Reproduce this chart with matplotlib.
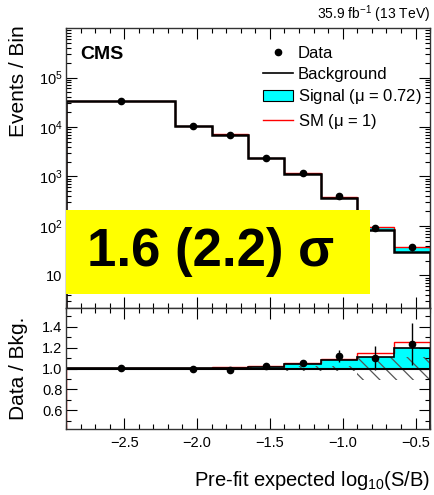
import numpy as np
import matplotlib
matplotlib.use("Agg")
import matplotlib.pyplot as plt
from matplotlib.lines import Line2D
from matplotlib.patches import Patch, Rectangle
from matplotlib.ticker import MultipleLocator, LogLocator, NullFormatter

plt.rcParams['font.family'] = ['Liberation Sans', 'DejaVu Sans']
plt.rcParams['mathtext.default'] = 'regular'
plt.rcParams['hatch.color'] = '#555555'
plt.rcParams['hatch.linewidth'] = 0.9

# bin edges in log10(S/B)
edges = [-2.9, -2.15, -1.9, -1.65, -1.4, -1.15, -0.9, -0.65, -0.4]
centers = [-2.525, -2.025, -1.775, -1.525, -1.275, -1.025, -0.775, -0.525]

background = [33500, 10500, 7000, 2350, 1100, 360, 82, 30]
signal_fit = [33, 42, 56, 38, 43, 28, 9.3, 6.0]      # mu = 0.72
signal_sm = [67, 84, 91, 61, 60, 33.5, 12.4, 7.5]    # mu = 1
data = [33600, 10450, 6895, 2411, 1160, 403, 90, 37]
bkg_unc = [0.002, 0.004, 0.006, 0.01, 0.02, 0.023, 0.11, 0.11]  # relative

bkg = np.array(background)
sig = np.array(signal_fit)
sm = np.array(signal_sm)
obs = np.array(data, dtype=float)
unc = np.array(bkg_unc)

fig = plt.figure(figsize=(4.34, 4.95), dpi=100)
ax = fig.add_axes([0.152, 0.3778, 0.839, 0.5656])
rax = fig.add_axes([0.152, 0.1333, 0.839, 0.2445], sharex=ax)

# main panel
ax.stairs(bkg + sig, edges, baseline=bkg, fill=True, color='#00ffff', lw=0)
ax.stairs(bkg + sm, edges, color='red', lw=1.0)
ax.stairs(bkg, edges, color='black', lw=1.8)
ax.errorbar(centers, obs, yerr=np.sqrt(obs), fmt='o', color='black',
            ms=4.5, lw=1, capsize=0, zorder=5)
ax.set_yscale('log')
ax.set_xlim(-2.9, -0.4)
ax.set_ylim(2.2, 1e6)
ax.set_ylabel('Events / Bin', fontsize=15, loc='top')
ax.yaxis.set_minor_locator(LogLocator(base=10, subs=np.arange(2, 10), numticks=10))
ax.yaxis.set_minor_formatter(NullFormatter())
ax.set_yticks([10, 100, 1e3, 1e4, 1e5])
ax.set_yticklabels(['10', '$10^2$', '$10^3$', '$10^4$', '$10^5$'])
ax.tick_params(axis='x', labelbottom=False)

ax.text(0.0385, 0.905, 'CMS', transform=ax.transAxes, fontsize=14,
        fontweight='bold', va='center', ha='left')
ax.text(1.0, 1.012, '35.9 fb$^{-1}$ (13 TeV)', transform=ax.transAxes,
        fontsize=10, ha='right', va='bottom')

handles = [
    Line2D([], [], marker='o', ls='none', color='black', ms=4.5),
    Line2D([], [], color='black', lw=1.2),
    Patch(facecolor='#00ffff', edgecolor='black', lw=0.8),
    Line2D([], [], color='red', lw=1.0),
]
labels = ['Data', 'Background', 'Signal ($\\mu$ = 0.72)', 'SM ($\\mu$ = 1)']
ax.legend(handles, labels, loc='upper left', bbox_to_anchor=(0.541, 0.935),
          frameon=False, fontsize=12, handlelength=1.8, handletextpad=0.3,
          labelspacing=0.33, borderpad=0, borderaxespad=0)

# highlight box
ax.add_patch(Rectangle((0.0, 0.05), 0.835, 0.3, transform=ax.transAxes,
                       facecolor='#ffff00', edgecolor='none', zorder=10))
ax.text(0.396, 0.2, '1.6 (2.2) σ', transform=ax.transAxes, fontsize=38,
        fontweight='bold', ha='center', va='center', zorder=11)

# ratio panel
ratio_sig = (bkg + sig) / bkg
ratio_sm = (bkg + sm) / bkg
ratio_obs = obs / bkg
ratio_err = np.sqrt(obs) / bkg
rax.stairs(ratio_sig, edges, baseline=1.0, fill=True, color='#00ffff', lw=0)
rax.stairs(1 + unc, edges, baseline=1 - unc, fill=True, facecolor='none',
           edgecolor='#555555', hatch='\\\\', lw=0)
rax.stairs(ratio_sm, edges, color='red', lw=1.0)
rax.stairs(ratio_sig, edges, color='black', lw=1.2)
rax.axhline(1.0, color='black', lw=1.5)
rax.errorbar(centers, ratio_obs, yerr=ratio_err, fmt='o', color='black',
             ms=4.5, lw=1, capsize=0, zorder=5)
rax.set_ylim(0.42, 1.58)
rax.yaxis.set_major_locator(MultipleLocator(0.2))
rax.yaxis.set_minor_locator(MultipleLocator(0.1))
rax.xaxis.set_major_locator(MultipleLocator(0.5))
rax.xaxis.set_minor_locator(MultipleLocator(0.1))
rax.set_ylabel('Data / Bkg.', fontsize=15)
rax.set_xlabel('Pre-fit expected log$_{10}$(S/B)', fontsize=14.5, loc='right',
               labelpad=14)

for a in (ax, rax):
    a.tick_params(which='both', direction='in', top=True, right=True,
                  labelsize=10.5, colors='black', pad=2.5)
    a.tick_params(which='major', length=7.7, width=0.8)
    a.tick_params(which='minor', length=3.6, width=0.8)
    for s in a.spines.values():
        s.set_linewidth(1.0)
        s.set_color('#333333')
rax.tick_params(axis='x', pad=5)

rax.yaxis.set_label_coords(-0.105, 0.5)
ax.yaxis.set_label_coords(-0.105, 1.01)

fig.savefig('out.png', dpi=100)
